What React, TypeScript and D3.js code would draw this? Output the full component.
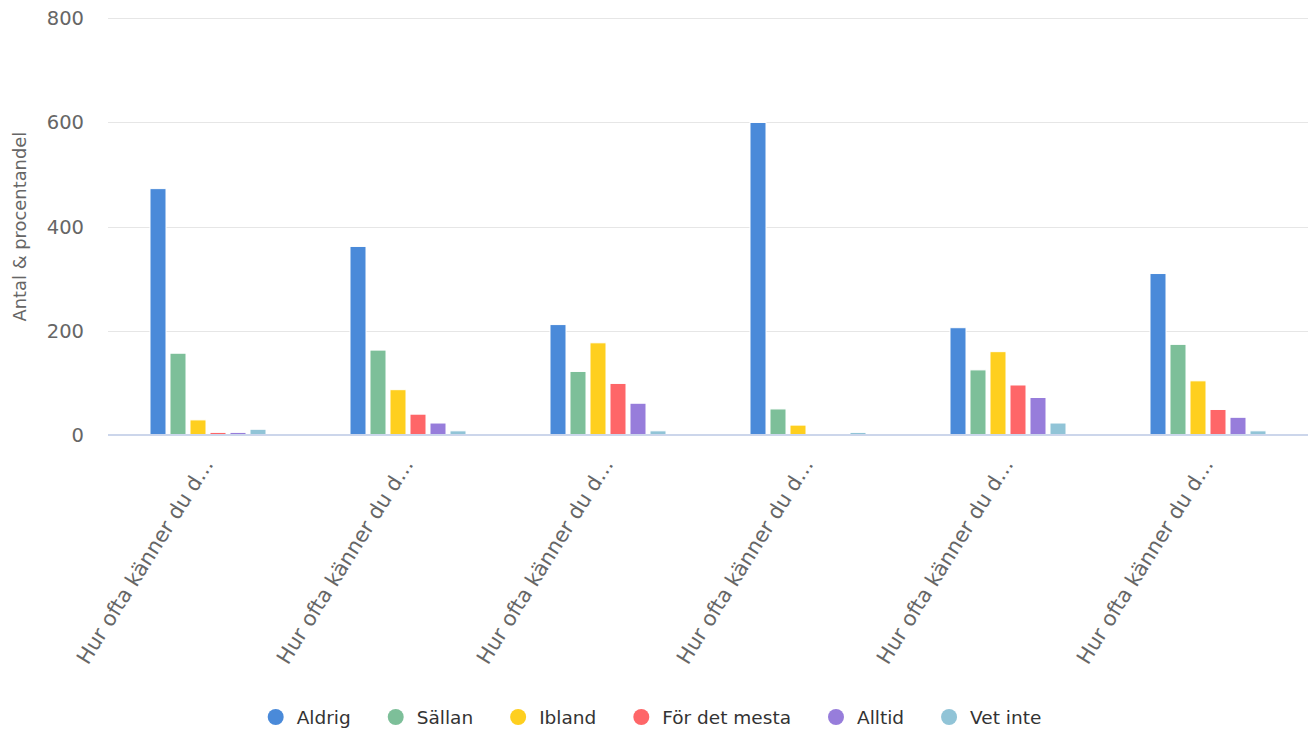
import React, { useEffect, useRef } from "react";
import * as d3 from "d3";

const categories = [
  "Hur ofta känner du d…",
  "Hur ofta känner du d… ",
  "Hur ofta känner du d…  ",
  "Hur ofta känner du d…   ",
  "Hur ofta känner du d…    ",
  "Hur ofta känner du d…     ",
];
const seriesNames = ["Aldrig", "Sällan", "Ibland", "För det mesta", "Alltid", "Vet inte"];
const seriesColors = ["#4a8ad9", "#7dbf99", "#fecf1f", "#fe6668", "#977ddb", "#91c4d7"];
const aldrig = [473, 362, 212, 600, 206, 310];
const sallan = [157, 163, 122, 50, 125, 174];
const ibland = [29, 87, 177, 19, 160, 104];
const forDetMesta = [5, 40, 99, 0, 96, 49];
const alltid = [5, 23, 61, 0, 72, 34];
const vetInte = [11, 8, 8, 5, 23, 8];
const seriesValues = [aldrig, sallan, ibland, forDetMesta, alltid, vetInte];
const yTicks = [0, 200, 400, 600, 800];
const yTitle = "Antal & procentandel";

const W = 1309;
const H = 733;
const FONT = "'DejaVu Sans', sans-serif";

export default function App() {
  const ref = useRef<SVGSVGElement | null>(null);

  useEffect(() => {
    const svg = d3.select(ref.current);
    svg.selectAll("*").remove();

    const left = 108, right = 1308, top = 18.3, bottom = 435;
    const x = d3.scaleBand<string>().domain(categories).range([left, right]).paddingInner(0).paddingOuter(0);
    const bw = x.bandwidth();
    const inner = d3
      .scaleBand<string>()
      .domain(seriesNames)
      .range([bw * 0.2, bw * 0.8])
      .paddingInner(0.2)
      .paddingOuter(0.1);
    const y = d3.scaleLinear().domain([0, 800]).range([bottom, top]);

    // grid
    const grid = svg.append("g");
    yTicks.forEach((t) => {
      if (t === 0) return;
      grid
        .append("line")
        .attr("x1", left)
        .attr("x2", right)
        .attr("y1", Math.round(y(t)) + 0.5)
        .attr("y2", Math.round(y(t)) + 0.5)
        .attr("stroke", "#e6e6e6")
        .attr("stroke-width", 1);
    });

    // y labels
    const yl = svg.append("g");
    yTicks.forEach((t) => {
      yl.append("text")
        .attr("x", 84)
        .attr("y", y(t) + 7)
        .attr("text-anchor", "end")
        .attr("font-family", FONT)
        .attr("font-size", 19.5)
        .attr("fill", "#666666")
        .text(String(t));
    });

    // y title
    const title = svg
      .append("text")
      .attr("text-anchor", "middle")
      .attr("font-family", FONT)
      .attr("font-size", 17)
      .attr("fill", "#666666")
      .text(yTitle);
    const tl = (title.node() as SVGTextElement).getComputedTextLength();
    const fs = 17 * (190 / tl);
    title.attr("font-size", fs).attr("transform", `translate(26,${(top + bottom) / 2}) rotate(-90)`);

    // bars
    const bars = svg.append("g");
    seriesNames.forEach((s, si) => {
      const vals = seriesValues[si];
      categories.forEach((c, ci) => {
        const v = vals[ci];
        const x0 = (x(c) as number) + (inner(s) as number);
        const y0 = y(v);
        bars
          .append("rect")
          .attr("x", x0)
          .attr("y", y0)
          .attr("width", inner.bandwidth())
          .attr("height", Math.max(0, bottom - y0))
          .attr("fill", seriesColors[si])
          .attr("stroke", "#ffffff")
          .attr("stroke-width", 1);
      });
    });

    // axis line
    svg
      .append("line")
      .attr("x1", left)
      .attr("x2", right)
      .attr("y1", bottom)
      .attr("y2", bottom)
      .attr("stroke", "#ccd6eb")
      .attr("stroke-width", 2);

    // x labels
    const xl = svg.append("g");
    categories.forEach((c) => {
      const cx = (x(c) as number) + bw / 2;
      const t = xl
        .append("text")
        .attr("text-anchor", "end")
        .attr("font-family", FONT)
        .attr("font-size", 20)
        .attr("fill", "#666666")
        .text(c.trim());
      const len = (t.node() as SVGTextElement).getComputedTextLength();
      t.attr("font-size", 20 * (238 / len)).attr("transform", `translate(${cx + 6},464) rotate(-58)`);
    });

    // legend
    const lg = svg.append("g");
    const ly = 717;
    const items: { g: any; w: number }[] = [];
    seriesNames.forEach((s, si) => {
      const g = lg.append("g");
      g.append("circle").attr("cx", 8).attr("cy", 0).attr("r", 8).attr("fill", seriesColors[si]);
      const t = g
        .append("text")
        .attr("x", 29)
        .attr("y", 6.5)
        .attr("font-family", FONT)
        .attr("font-size", 18.5)
        .attr("fill", "#333333")
        .text(s);
      const tw = (t.node() as SVGTextElement).getComputedTextLength();
      items.push({ g, w: 29 + tw });
    });
    const gap = 37;
    const total = items.reduce((a, b) => a + b.w, 0) + gap * (items.length - 1);
    let cx = W / 2 - total / 2;
    items.forEach((it) => {
      it.g.attr("transform", `translate(${cx},${ly})`);
      cx += it.w + gap;
    });
  }, []);

  return (
    <svg
      ref={ref}
      width={W}
      height={H}
      style={{ position: "absolute", left: 0, top: 0, background: "#ffffff" }}
    />
  );
}
